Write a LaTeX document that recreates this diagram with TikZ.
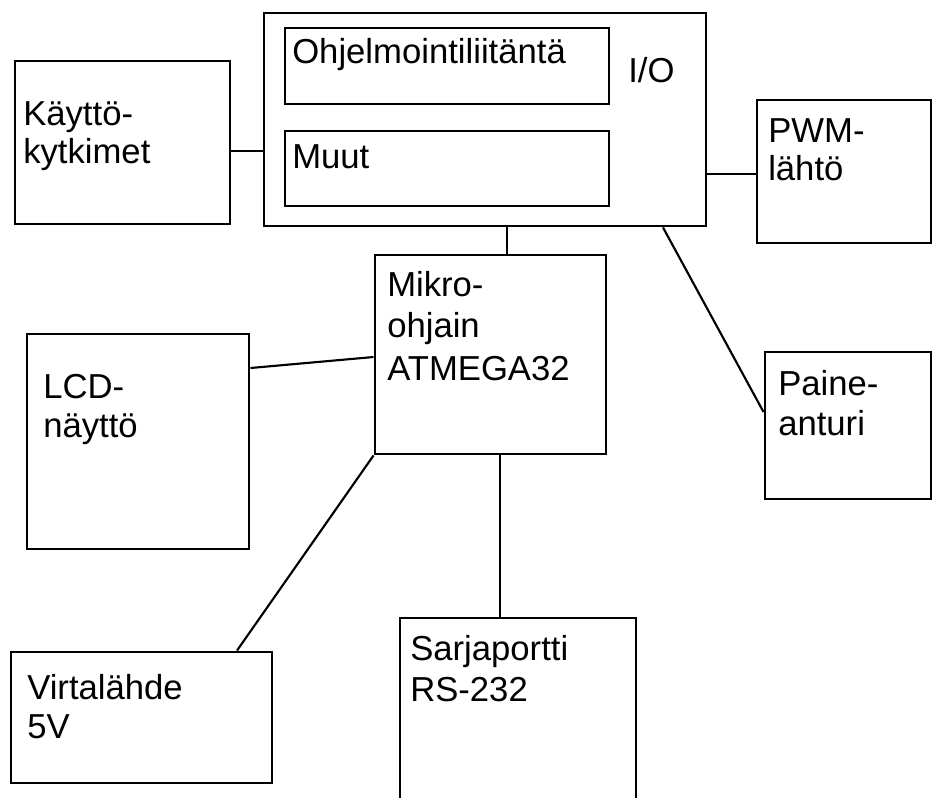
\documentclass[tikz,border=0pt]{standalone}
\usepackage{fontspec}
\setmainfont{Liberation Sans}
\usetikzlibrary{fit,calc}
\tikzset{
  blk/.style={draw=black, line width=2.2pt, inner sep=0pt, rectangle},
  lbl/.style={inner sep=0pt, anchor=base west, font=\fontsize{26}{31}\selectfont},
  wire/.style={draw=black, line width=1.6pt}
}
\begin{document}
\begin{tikzpicture}[x=0.75pt,y=-0.75pt]
\useasboundingbox (0,0) rectangle (932,797);
\clip (0,0) rectangle (932,797);
% boxes
\node[blk, fit={(15,61)(230,224)}] (kay) {};
\node[blk, fit={(264,13)(706,226)}] (io) {};
\node[blk, fit={(285,28)(609,104)}] (ohj) {};
\node[blk, fit={(285,131)(609,206)}] (muut) {};
\node[blk, fit={(757,100)(931,243)}] (pwm) {};
\node[blk, fit={(375,255)(606,454)}] (mikro) {};
\node[blk, fit={(27,334)(249,549)}] (lcd) {};
\node[blk, fit={(765,352)(931,499)}] (paine) {};
\node[blk, fit={(11,652)(272,783)}] (virta) {};
\node[blk, fit={(400,618)(636,815)}] (sarja) {};
% texts
\node[lbl] (kayA) at (23,125) {Käyttö-};
\node[lbl] (kayB) at (23,163) {kytkimet};
\node[lbl] (ohjT) at (292,63) {Ohjelmointiliitäntä};
\node[lbl] (muutT) at (292,168) {Muut};
\node[lbl] (ioT) at (628,82) {I/O};
\node[lbl] (pwmA) at (768,142) {PWM-};
\node[lbl] (pwmB) at (768,180) {lähtö};
\node[lbl] (mikA) at (387,296) {Mikro-};
\node[lbl] (mikB) at (387,337) {ohjain};
\node[lbl] (mikC) at (387,380) {ATMEGA32};
\node[lbl] (lcdA) at (43,398) {LCD-};
\node[lbl] (lcdB) at (43,437) {näyttö};
\node[lbl] (paiA) at (778,395) {Paine-};
\node[lbl] (paiB) at (778,435) {anturi};
\node[lbl] (virA) at (27,699) {Virtalähde};
\node[lbl] (virB) at (27,738) {5V};
\node[lbl] (sarA) at (410,660) {Sarjaportti};
\node[lbl] (sarB) at (410,701) {RS-232};
% connectors
\draw[wire] (kay.east |- 0,151) -- (io.west |- 0,151);
\draw[wire] (io.east |- 0,174) -- (pwm.west |- 0,174);
\draw[wire] (io.south -| 507,0) -- (mikro.north -| 507,0);
\draw[wire] (lcd.east |- 0,368) -- (mikro.west |- 0,357);
\draw[wire] (io.south -| 663,0) -- (paine.west |- 0,412);
\draw[wire] (mikro.south west) -- (virta.north -| 237,0);
\draw[wire] (mikro.south -| 500,0) -- (sarja.north -| 500,0);
\end{tikzpicture}
\end{document}
